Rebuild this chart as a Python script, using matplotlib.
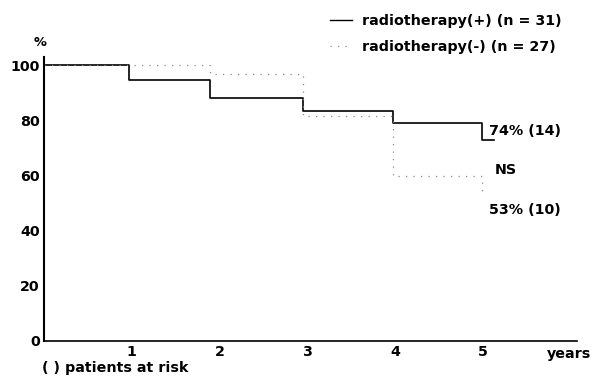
import matplotlib
matplotlib.use('Agg')
import matplotlib.pyplot as plt
from matplotlib.lines import Line2D

plt.rcParams['font.family'] = ['DejaVu Sans']
plt.rcParams['font.weight'] = 'bold'

# survival steps (years, %)
years_pos = [0, 0.97, 1.89, 2.95, 3.97, 4.99, 5.12]
surv_pos = [100, 94.5, 88, 83.5, 79, 73, 73]
years_neg = [0, 1.89, 2.95, 3.97, 4.99]
surv_neg = [100, 97, 81.5, 60, 53]

x_ticks = [1, 2, 3, 4, 5]
y_ticks = [0, 20, 40, 60, 80, 100]

FS = 10.3
dotted = (0, (1, 5))

fig = plt.figure(figsize=(5.93, 3.79), dpi=100)
ax = fig.add_axes([0.0742, 0.1003, 0.899, 0.7493])

ax.step(years_pos, surv_pos, where='post', color='black', lw=1.2)
ax.step(years_neg, surv_neg, where='post', color='#8a8a8a', lw=0.9,
        linestyle=dotted)

ax.set_xlim(0, 6.07)
ax.set_ylim(0, 103)
ax.set_xticks(x_ticks)
ax.set_yticks(y_ticks)
ax.tick_params(length=0, labelsize=FS, pad=3)
for lab in ax.get_xticklabels() + ax.get_yticklabels():
    lab.set_fontweight('bold')
ax.spines['top'].set_visible(False)
ax.spines['right'].set_visible(False)
ax.spines['left'].set_linewidth(1.5)
ax.spines['bottom'].set_linewidth(1.2)

# annotations
ax.text(5.07, 76, '74% (14)', fontsize=FS, fontweight='bold', va='center')
ax.text(5.13, 62, 'NS', fontsize=FS, fontweight='bold', va='center')
ax.text(5.07, 47.5, '53% (10)', fontsize=FS, fontweight='bold', va='center')

fig.text(0.068, 0.888, '%', fontsize=FS - 1, fontweight='bold', ha='center', va='center')
fig.text(0.922, 0.066, 'years', fontsize=FS, fontweight='bold', va='center')
fig.text(0.071, 0.03, '( ) patients at risk', fontsize=FS, fontweight='bold', va='center')

handles = [Line2D([0], [0], color='black', lw=1.0),
           Line2D([0], [0], color='#8a8a8a', lw=0.9, linestyle=dotted)]
labels = ['radiotherapy(+) (n = 31)', 'radiotherapy(-) (n = 27)']
fig.legend(handles, labels, loc='upper left', bbox_to_anchor=(0.557, 0.964),
           frameon=False, handlelength=1.5, handletextpad=0.75,
           labelspacing=0.83, borderpad=0, borderaxespad=0,
           prop={'weight': 'bold', 'size': FS})

fig.savefig('out.png', dpi=100)
